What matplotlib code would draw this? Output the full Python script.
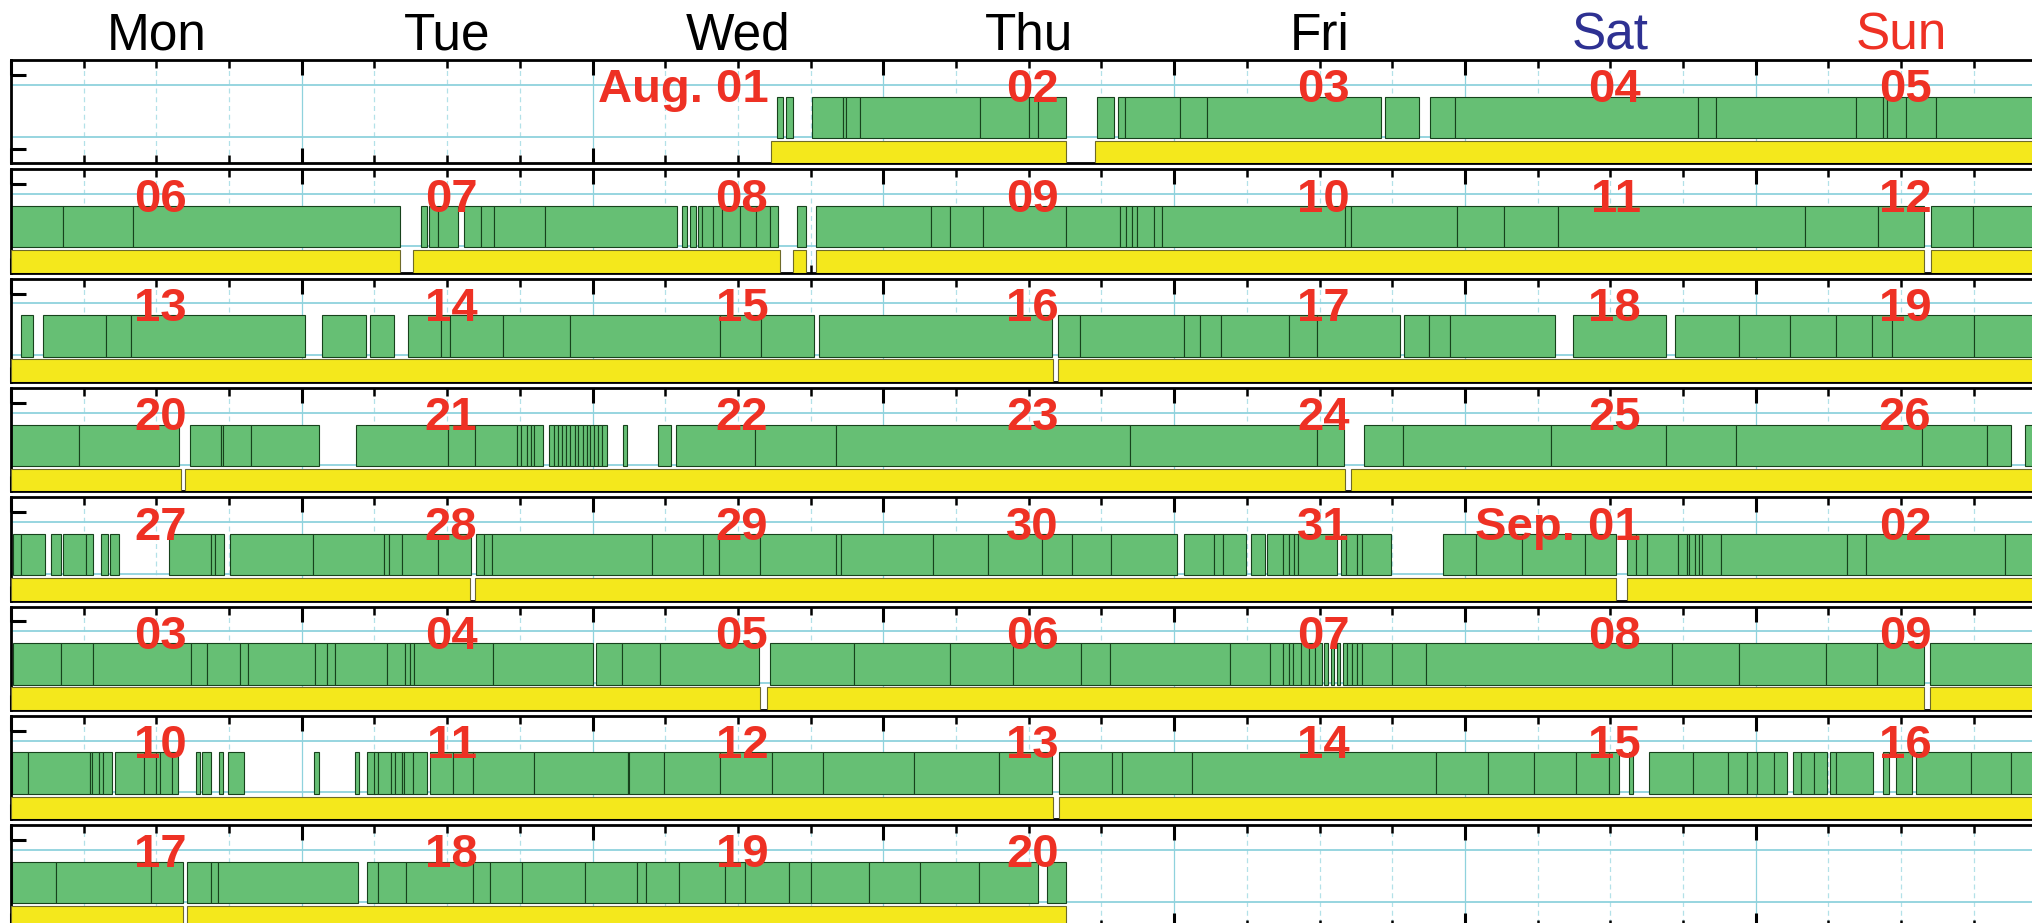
import matplotlib
matplotlib.use('Agg')
import matplotlib.pyplot as plt
from matplotlib.patches import Rectangle
from matplotlib.ticker import MultipleLocator

plt.rcParams['font.family'] = ['Liberation Sans', 'DejaVu Sans']

days = ['Mon', 'Tue', 'Wed', 'Thu', 'Fri', 'Sat', 'Sun']
day_colors = ['black', 'black', 'black', 'black', 'black', '#2e3192', '#ee3124']

# hours from Monday 00:00 of each week row.
# green: each inner list is one run of touching segments (breakpoints)
green_w1 = [[63.2, 63.7], [64.0, 64.5],
            [66.1, 68.7, 68.9, 70.1, 80.0, 84.0, 84.8, 87.1],
            [89.6, 91.0], [91.4, 91.9, 96.5, 98.7, 113.1], [113.4, 116.2],
            [117.1, 119.2, 139.2, 140.7, 152.3, 154.5, 154.8, 156.4, 158.9, 168]]
green_w2 = [[0, 4.3, 10.1, 32.1],
            [33.8, 34.3], [34.5, 35.2, 36.9],
            [37.4, 38.8, 39.9, 44.1, 55.0],
            [55.4, 55.8], [56.0, 56.5], [56.7, 57.0, 57.9, 58.7, 60.2, 61.5, 62.6, 63.3],
            [64.9, 65.6],
            [66.4, 75.9, 77.5, 80.2, 87.1, 91.5, 92.0, 92.5, 92.9, 94.3, 95.0, 110.1,
             110.6, 119.3, 123.2, 127.7, 148.1, 154.1, 157.9],
            [158.5, 161.9, 168]]
green_w3 = [[0.8, 1.8], [2.6, 7.8, 9.9, 24.3], [25.7, 29.3], [29.6, 31.6],
            [32.8, 35.5, 36.2, 40.6, 46.1, 58.5, 61.9, 66.3], [66.7, 85.9],
            [86.4, 88.2, 96.8, 98.1, 99.9, 105.5, 107.8, 114.6],
            [115.0, 117.0, 118.8, 127.4], [128.9, 136.6],
            [137.3, 142.6, 146.8, 150.6, 153.6, 155.2, 162.0, 168]]
green_w4 = [[0, 5.6, 13.9], [14.8, 17.3, 17.5, 19.8, 25.4],
            [28.5, 36.1, 38.3, 41.8, 42.1, 42.6, 42.9, 43.2, 43.9],
            [44.4, 44.8, 45.15, 45.45, 45.8, 46.1, 46.55, 46.8, 47.2, 47.5, 47.8,
             48.1, 48.45, 48.75, 49.2],
            [50.5, 50.8], [53.4, 54.5],
            [54.9, 61.4, 68.1, 92.35, 107.8, 110.0],
            [111.7, 114.9, 127.1, 136.6, 142.4, 157.7, 163.1, 165.1], [166.2, 168]]
green_w5 = [[0.2, 0.8, 2.8], [3.3, 4.1], [4.3, 6.2, 6.8], [7.4, 8.0], [8.2, 8.9],
            [13.0, 16.5, 16.8, 17.6],
            [18.1, 24.9, 30.8, 31.2, 32.3, 35.2, 38.0],
            [38.4, 39.0, 39.7, 52.9, 57.1, 58.4, 61.8, 68.1, 68.5, 76.1, 80.6, 85.1,
             87.6, 90.8, 96.2],
            [96.8, 99.3, 100.0, 101.9], [102.3, 103.5],
            [103.7, 105.0, 105.5, 105.9, 106.2, 109.4], [109.8, 110.2, 111.1, 111.5, 113.9],
            [118.2, 120.9, 124.7, 129.9, 132.5],
            [133.4, 134.1, 135.0, 137.6, 138.3, 138.5, 139.0, 139.3, 139.6, 141.1,
             151.5, 153.1, 164.6, 168]]
green_w6 = [[0.2, 4.1, 6.8, 14.85, 16.2, 18.9, 19.6, 25.1, 26.1, 26.7, 31.0, 32.5,
             32.9, 33.3, 39.8, 48.0],
            [48.3, 50.4, 53.6, 61.7],
            [62.6, 69.6, 77.5, 82.7, 88.3, 90.7, 100.6, 103.9, 105.0, 105.5, 105.8,
             106.5, 107.1, 107.6, 108.2],
            [108.4, 108.7], [108.9, 109.2], [109.4, 109.7],
            [109.9, 110.3, 110.7, 111.1, 111.5, 114.0, 116.8, 137.1, 142.6, 149.8,
             154.0, 157.9],
            [158.4, 168]]
green_w7 = [[0.1, 1.4, 6.5, 6.7, 7.3, 7.6, 8.3], [8.6, 11.0, 12.0, 12.3, 13.3, 13.8],
            [15.3, 15.6], [15.75, 16.5], [17.2, 17.5], [17.95, 19.2],
            [25.0, 25.4], [28.4, 28.75],
            [29.4, 30.0, 30.3, 31.4, 31.7, 32.3, 32.4, 33.2, 34.3],
            [34.6, 36.5, 38.1, 43.2, 50.9, 51.0, 53.9, 58.5, 62.8, 67.0, 74.5, 81.5, 85.9],
            [86.5, 90.9, 91.7, 97.5, 117.6, 121.9, 125.7, 129.2, 131.9, 132.7],
            [133.5, 133.9],
            [135.2, 138.8, 141.7, 143.3, 144.1, 145.5, 146.6], [147.1, 147.7, 148.8, 149.85],
            [150.1, 150.6, 153.7], [154.5, 155.0], [155.6, 156.9],
            [157.2, 161.8, 165.1, 168]]
green_w8 = [[0.1, 3.7, 11.55, 14.2],
            [14.5, 16.5, 17.1, 28.6],
            [29.4, 30.3, 32.6, 38.1, 39.5, 42.2, 47.4, 51.7, 52.4, 55.1, 58.9, 60.6,
             64.2, 66.0, 70.8, 75.0, 79.9, 84.8],
            [85.5, 87.1]]

yellow_w1 = [[62.7, 87.1], [89.5, 168]]
yellow_w2 = [[0, 32.1], [33.2, 63.5], [64.5, 65.6], [66.4, 157.9], [158.5, 168]]
yellow_w3 = [[0, 86.0], [86.4, 168]]
yellow_w4 = [[0, 14.0], [14.4, 110.1], [110.6, 168]]
yellow_w5 = [[0, 37.9], [38.3, 132.5], [133.4, 168]]
yellow_w6 = [[0, 61.8], [62.4, 157.9], [158.4, 168]]
yellow_w7 = [[0, 86.0], [86.5, 168]]
yellow_w8 = [[0, 14.2], [14.5, 87.1]]

dates_w1 = ['', '', 'Aug. 01', '02', '03', '04', '05']
dates_w2 = ['06', '07', '08', '09', '10', '11', '12']
dates_w3 = ['13', '14', '15', '16', '17', '18', '19']
dates_w4 = ['20', '21', '22', '23', '24', '25', '26']
dates_w5 = ['27', '28', '29', '30', '31', 'Sep. 01', '02']
dates_w6 = ['03', '04', '05', '06', '07', '08', '09']
dates_w7 = ['10', '11', '12', '13', '14', '15', '16']
dates_w8 = ['17', '18', '19', '20', '', '', '']

greens = [green_w1, green_w2, green_w3, green_w4, green_w5, green_w6, green_w7, green_w8]
yellows = [yellow_w1, yellow_w2, yellow_w3, yellow_w4, yellow_w5, yellow_w6, yellow_w7, yellow_w8]
dates = [dates_w1, dates_w2, dates_w3, dates_w4, dates_w5, dates_w6, dates_w7, dates_w8]

W, H = 2033, 923
fig = plt.figure(figsize=(W / 100, H / 100), dpi=100)

grid_c = '#8fd2dd'
red = '#ee3124'

for i in range(8):
    top = 60 + 109.3 * i
    ax = fig.add_axes([11 / W, 1 - (top + 103.3) / H, 2035.6 / W, 103.3 / H])
    ax.set_xlim(0, 168)
    ax.set_ylim(0, 1)

    for h in range(0, 169, 6):
        if h % 24 == 0:
            ax.axvline(h, color=grid_c, lw=0.9, zorder=0)
        else:
            ax.axvline(h, color='#b3e1e8', lw=0.9, ls=(0, (4, 3)), zorder=0)
    for y in (0.258, 0.76):
        ax.axhline(y, color=grid_c, lw=1.3, zorder=0)

    for block in greens[i]:
        for a, b in zip(block[:-1], block[1:]):
            ax.add_patch(Rectangle((a, 0.243), b - a, 0.402, facecolor='#66bf74',
                                   edgecolor='#17421c', lw=0.8, zorder=2))
    for a, b in yellows[i]:
        ax.add_patch(Rectangle((a, 0.0), b - a, 0.218, facecolor='#f4e81c',
                               edgecolor='#6e6a2a', lw=0.8, zorder=3))

    for d, lab in enumerate(dates[i]):
        if lab:
            ax.text(d * 24 + 12 + 2.5, 0.59, lab, ha='right', va='baseline',
                    fontsize=34, fontweight='bold', color=red, zorder=5)

    ax.xaxis.set_major_locator(MultipleLocator(24))
    ax.xaxis.set_minor_locator(MultipleLocator(6))
    ax.set_yticks([0.14, 0.855])
    ax.tick_params(which='major', direction='in', length=11, width=2.2,
                   top=True, bottom=True, left=True, right=True,
                   labelbottom=False, labelleft=False)
    ax.tick_params(which='minor', direction='in', length=6, width=1.8,
                   top=True, bottom=True, left=False, right=False)
    for s in ax.spines.values():
        s.set_linewidth(2.0)

    if i == 0:
        for d, name in enumerate(days):
            ax.text((d + 0.5) / 7, 1 + 10 / 103.3, name, transform=ax.transAxes,
                    ha='center', va='baseline', fontsize=37, color=day_colors[d])

fig.savefig('out.png', dpi=100)
